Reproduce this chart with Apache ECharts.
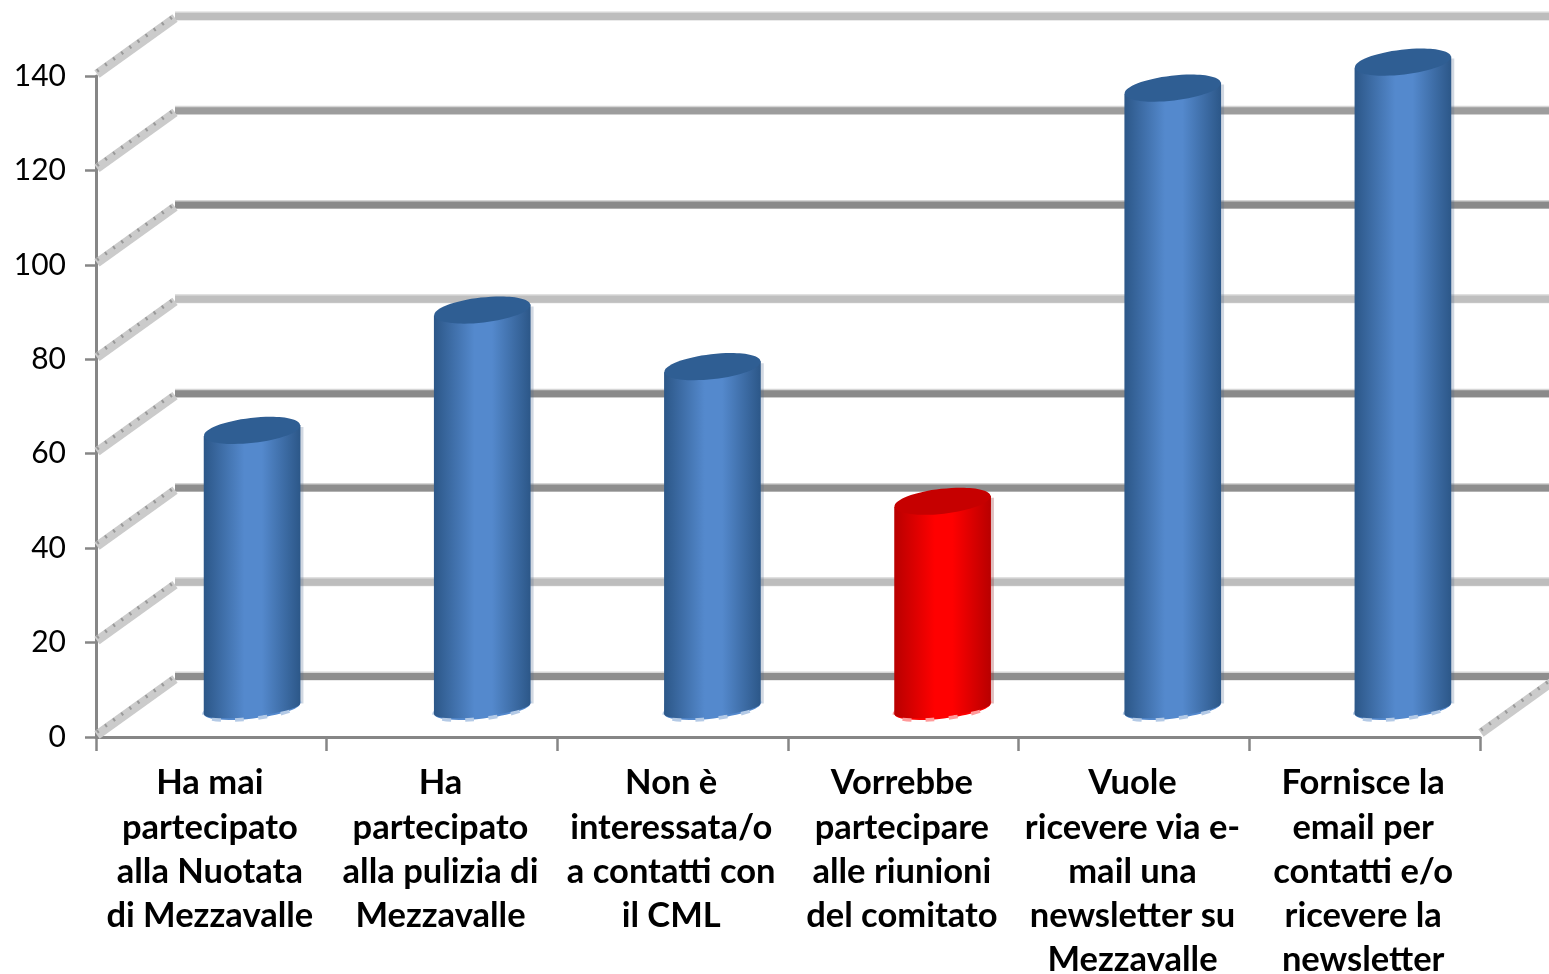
<!DOCTYPE html>
<html>
<head>
<meta charset="utf-8">
<style>html,body{margin:0;padding:0;background:#fff}#c{width:1549px;height:974px}</style>
<script src="https://cdn.jsdelivr.net/npm/echarts@6/dist/echarts.min.js"></script>
</head>
<body>
<div id="c"></div>
<script>
const categories = [
  "Ha mai\npartecipato\nalla Nuotata\ndi Mezzavalle",
  "Ha\npartecipato\nalla pulizia di\nMezzavalle",
  "Non è\ninteressata/o\na contatti con\nil CML",
  "Vorrebbe\npartecipare\nalle riunioni\ndel comitato",
  "Vuole\nricevere via e-\nmail una\nnewsletter su\nMezzavalle",
  "Fornisce la\nemail per\ncontatti e/o\nricevere la\nnewsletter"
];
const values = [59, 84.5, 72.5, 44, 131.5, 137];
const ticks = [0, 20, 40, 60, 80, 100, 120, 140];
const wallLineColors = ['#8e8e8e','#bdbdbd','#8e8e8e','#8a8a8a','#bfbfbf','#8a8a8a','#9d9d9d','#bdbdbd'];
const palette = {
  blue: {edge:'#2c5788', mid:'#5489cd', top:'#2f5e93', foot:'#b4cae6', side:'rgba(70,100,140,0.25)'},
  red:  {edge:'#b80000', mid:'#ff0000', top:'#c60000', foot:'#ff9a9a', side:'rgba(150,40,40,0.3)'}
};
const barPalette = ['blue','blue','blue','red','blue','blue'];

const DEPTH = [79, -60];
const grey = '#868686';
const line = (x1,y1,x2,y2,style) => ({type:'line',shape:{x1,y1,x2,y2},style,silent:true});

function renderSideWall(params, api) {
  const y = api.coord([0, api.value(0)])[1];
  const x = params.coordSys.x;
  return {type:'group', children:[
    line(x+1,y-2,x+DEPTH[0],y+DEPTH[1]+2,{stroke:'#cbcbcb',lineWidth:9}),
    line(x+1,y-5,x+DEPTH[0],y+DEPTH[1]-1,{stroke:'#999999',lineWidth:3.5,lineDash:[2,8]})
  ]};
}
function renderFloorEdge(params, api) {
  const cs = params.coordSys;
  const x = cs.x + cs.width;
  const y = api.coord([0, 0])[1];
  return {type:'group', children:[
    line(x+1,y-4,x+DEPTH[0],y+DEPTH[1],{stroke:'#cbcbcb',lineWidth:9}),
    line(x+1,y-7,x+DEPTH[0],y+DEPTH[1]-3,{stroke:'#999999',lineWidth:3.5,lineDash:[2,8]})
  ]};
}
function renderBackLine(params, api) {
  const y = api.coord([0, api.value(0)])[1];
  const cs = params.coordSys;
  return {type:'group', children:[
    line(cs.x,y,cs.x+cs.width,y,{stroke:'#d6d6d6',lineWidth:9}),
    line(cs.x,y+0.5,cs.x+cs.width,y+0.5,{stroke:wallLineColors[params.dataIndex],lineWidth:7})
  ]};
}
function renderCylinder(params, api) {
  const i = api.value(0);
  const top = api.coord([i, api.value(1)]);
  const base = api.coord([i, 0]);
  const rx = api.size([1,0])[0] * 0.21;
  const ry = 12.5, ryBase = 9.5, tilt = -0.115, lift = rx * Math.sin(-tilt);
  const c = palette[barPalette[params.dataIndex]];
  const fill = {type:'linear',x:0,y:0,x2:1,y2:0,colorStops:[
    {offset:0,color:c.edge},{offset:0.42,color:c.mid},{offset:0.6,color:c.mid},{offset:1,color:c.edge}]};
  const x = top[0];
  return {type:'group', children:[
    {type:'rect',shape:{x:x+rx-1,y:top[1]-lift+2,width:4,height:base[1]-top[1]-2},style:{fill:c.side}},
    {type:'ellipse',x:x,y:base[1],rotation:-tilt,shape:{cx:0,cy:0,rx:rx,ry:ryBase},
      style:{fill:c.mid,stroke:c.foot,lineWidth:4,lineDash:[9,14]}},
    {type:'ellipse',x:x,y:base[1],rotation:-tilt,shape:{cx:0,cy:0,rx:rx,ry:ryBase-2},style:{fill:fill}},
    {type:'polygon',shape:{points:[[x-rx,top[1]+lift],[x+rx,top[1]-lift],[x+rx,base[1]-lift],[x-rx,base[1]+lift]]},style:{fill:fill}},
    {type:'ellipse',x:x,y:top[1],rotation:-tilt,shape:{cx:0,cy:0,rx:rx,ry:ry},style:{fill:c.top}}
  ]};
}

const tickData = ticks.map(t => [t]);
const hiddenAxis = (gridIndex) => ({gridIndex, type:'category', data:categories, show:false});
const hiddenValue = (gridIndex) => ({gridIndex, type:'value', min:0, max:140, interval:20, show:false});

const chart = echarts.init(document.getElementById('c'), null, {renderer:'canvas'});
chart.setOption({
  animation:false,
  backgroundColor:'#ffffff',
  grid:[
    {left:96, top:76, width:1384, height:661, outerBoundsMode:'none'},
    {left:175, top:16, width:1390, height:660, outerBoundsMode:'none'},
    {left:137, top:48, width:1381, height:661, outerBoundsMode:'none'}
  ],
  xAxis:[
    {gridIndex:0, type:'category', data:categories,
      axisLine:{lineStyle:{color:grey,width:3}},
      axisTick:{show:true,length:14,lineStyle:{color:grey,width:2.5}},
      axisLabel:{color:'#000',fontFamily:'Lato',fontWeight:'bold',fontSize:34.5,lineHeight:44.3,margin:24,interval:0,hideOverlap:false,padding:[0,3,0,0]}},
    hiddenAxis(1), hiddenAxis(2)
  ],
  yAxis:[
    {gridIndex:0, type:'value', min:0, max:140, interval:20,
      axisLine:{show:true,lineStyle:{color:grey,width:3}},
      axisTick:{show:true,length:11,lineStyle:{color:grey,width:2.5}},
      splitLine:{show:false},
      axisLabel:{color:'#000',fontFamily:'Lato',fontSize:30,margin:30,padding:[4,0,0,0]}},
    hiddenValue(1), hiddenValue(2)
  ],
  series:[
    {type:'custom',xAxisIndex:1,yAxisIndex:1,data:tickData,encode:{y:0},renderItem:renderBackLine,z:1,silent:true},
    {type:'custom',xAxisIndex:0,yAxisIndex:0,data:tickData,encode:{y:0},renderItem:renderSideWall,z:2,silent:true},
    {type:'custom',xAxisIndex:0,yAxisIndex:0,data:[[0]],encode:{y:0},renderItem:renderFloorEdge,z:2,silent:true},
    {type:'custom',xAxisIndex:2,yAxisIndex:2,data:values.map((v,i)=>[i,v]),encode:{x:0,y:1},renderItem:renderCylinder,z:3,silent:true}
  ]
});
</script>
</body>
</html>
